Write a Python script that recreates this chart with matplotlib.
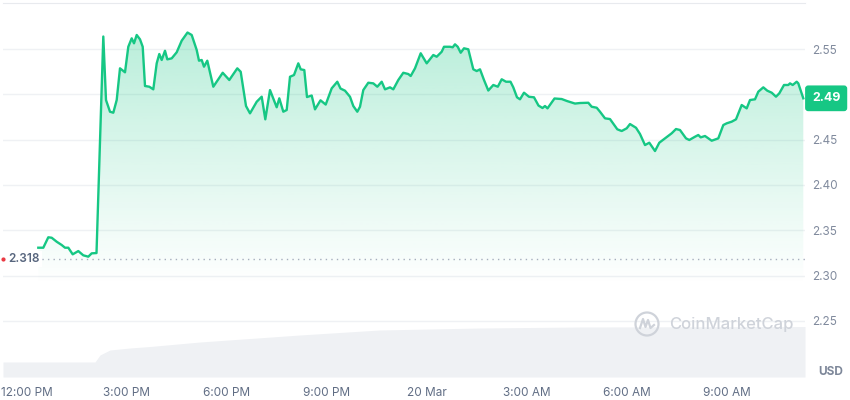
import numpy as np
import matplotlib
matplotlib.use("Agg")
import matplotlib.pyplot as plt
from matplotlib.patches import Polygon, Ellipse
from matplotlib.lines import Line2D
from matplotlib.transforms import blended_transform_factory

plt.rcParams['font.family'] = ['Inter', 'DejaVu Sans']

# price: hours after 12:00 PM (19 Mar) -> USD
hours = [0.354, 0.504, 0.654, 0.756, 0.906, 1.056, 1.155, 1.254, 1.386, 1.554,
         1.704, 1.854, 1.956, 2.100, 2.304, 2.385, 2.505, 2.604, 2.706, 2.805,
         2.955, 3.054, 3.156, 3.225, 3.306, 3.405, 3.486, 3.555, 3.684, 3.804,
         3.906, 3.984, 4.056, 4.155, 4.224, 4.356, 4.506, 4.656, 4.830, 4.956,
         5.106, 5.175, 5.256, 5.325, 5.424, 5.604, 5.886, 6.084, 6.324, 6.426,
         6.585, 6.705, 6.906, 7.056, 7.164, 7.305, 7.506, 7.584, 7.704, 7.806,
         7.905, 8.025, 8.154, 8.226, 8.334, 8.415, 8.556, 8.655, 8.820, 8.976,
         9.156, 9.324, 9.420, 9.555, 9.705, 9.804, 9.924, 10.005, 10.104, 10.254,
         10.404, 10.524, 10.656, 10.755, 10.905, 11.004, 11.154, 11.304, 11.454, 11.526,
         11.655, 11.826, 12.006, 12.204, 12.306, 12.456, 12.525, 12.705, 12.786, 12.855,
         12.936, 13.026, 13.125, 13.254, 13.404, 13.506, 13.605, 13.725, 13.854, 14.004,
         14.139, 14.256, 14.385, 14.520, 14.604, 14.715, 14.805, 14.925, 15.075, 15.225,
         15.360, 15.480, 15.555, 15.630, 15.840, 16.056, 16.215, 16.455, 16.605, 16.854,
         16.956, 17.106, 17.205, 17.355, 17.505, 17.724, 17.856, 18.006, 18.105, 18.285,
         18.405, 18.555, 18.684, 18.855, 18.984, 19.155, 19.356, 19.485, 19.605, 19.785,
         19.884, 20.055, 20.154, 20.226, 20.355, 20.556, 20.754, 20.904, 21.006, 21.156,
         21.285, 21.456, 21.606, 21.705, 21.855, 21.954, 22.104, 22.224, 22.356, 22.485,
         22.584, 22.725, 22.854, 22.905, 22.986, 23.106, 23.154, 23.304]
price = [2.3307, 2.3307, 2.3422, 2.3417, 2.3373, 2.3337, 2.3307, 2.3307, 2.3234, 2.3270,
         2.3223, 2.3208, 2.3245, 2.3248, 2.5638, 2.4937, 2.4808, 2.4797, 2.4937, 2.5287,
         2.5243, 2.5525, 2.5618, 2.5563, 2.5655, 2.5607, 2.5525, 2.5092, 2.5084, 2.5055,
         2.5342, 2.5445, 2.5379, 2.5481, 2.5386, 2.5397, 2.5464, 2.5592, 2.5682, 2.5655,
         2.5489, 2.5371, 2.5379, 2.5305, 2.5371, 2.5084, 2.5238, 2.5158, 2.5287, 2.5249,
         2.4871, 2.4790, 2.4918, 2.4974, 2.4724, 2.5047, 2.4857, 2.4956, 2.4808, 2.4827,
         2.5194, 2.5213, 2.5342, 2.5276, 2.5268, 2.4970, 2.4987, 2.4834, 2.4934, 2.4887,
         2.5066, 2.5139, 2.5064, 2.5040, 2.4973, 2.4871, 2.4808, 2.4863, 2.5047, 2.5128,
         2.5121, 2.5084, 2.5139, 2.5055, 2.5077, 2.5055, 2.5158, 2.5238, 2.5224, 2.5202,
         2.5287, 2.5453, 2.5342, 2.5434, 2.5415, 2.5470, 2.5525, 2.5525, 2.5519, 2.5552,
         2.5525, 2.5459, 2.5508, 2.5497, 2.5276, 2.5257, 2.5276, 2.5158, 2.5042, 2.5103,
         2.5084, 2.5166, 2.5139, 2.5139, 2.5077, 2.4967, 2.4945, 2.5018, 2.4973, 2.4967,
         2.4876, 2.4849, 2.4871, 2.4845, 2.4954, 2.4948, 2.4926, 2.4898, 2.4904, 2.4907,
         2.4863, 2.4852, 2.4808, 2.4735, 2.4727, 2.4614, 2.4595, 2.4625, 2.4672, 2.4631,
         2.4562, 2.4440, 2.4466, 2.4374, 2.4466, 2.4514, 2.4570, 2.4617, 2.4606, 2.4514,
         2.4496, 2.4532, 2.4551, 2.4525, 2.4540, 2.4488, 2.4514, 2.4661, 2.4680, 2.4698,
         2.4724, 2.4882, 2.4845, 2.4937, 2.4945, 2.5029, 2.5077, 2.5040, 2.5018, 2.4974,
         2.5011, 2.5103, 2.5103, 2.5121, 2.5103, 2.5139, 2.5121, 2.4956]

vol_hours = [-0.705, 2.055, 2.205, 2.505, 3.105, 3.705, 5.205, 6.705, 8.205, 10.59, 13.6, 16.6, 23.355]
volume = [60, 60, 88, 108, 116, 122, 140, 154, 168, 188, 196, 200, 202]

open_price = 2.318
last_label = "2.49"
price_ticks = [2.25, 2.30, 2.35, 2.40, 2.45, 2.50, 2.55]
# 2.50 sits under the current-price tag, so its label is left blank
price_labels = ["2.25", "2.30", "2.35", "2.40", "2.45", "", "2.55"]
time_ticks = [0, 3, 6, 9, 12, 15, 18, 21]
time_labels = ["12:00 PM", "3:00 PM", "6:00 PM", "9:00 PM", "20 Mar", "3:00 AM", "6:00 AM", "9:00 AM"]

GREEN = "#16c784"
xlim = (-0.705, 23.355)
ylim = (2.188, 2.6008)

fig = plt.figure(figsize=(8.5, 4), dpi=100)
rect = [3 / 850, 23 / 400, 802 / 850, 374 / 400]

# volume area behind the price
axv = fig.add_axes(rect, zorder=0)
axv.fill_between(vol_hours, 0, volume, color="#eff1f4", lw=0)
axv.set_xlim(*xlim)
axv.set_ylim(0, 1496)
axv.axis("off")

ax = fig.add_axes(rect, zorder=1)
ax.patch.set_alpha(0)
ax.set_xlim(*xlim)
ax.set_ylim(*ylim)

for t in price_ticks:
    ax.axhline(t, color="#eff1f4", lw=1, zorder=1)

# gradient fill under the line
poly = Polygon(list(zip(hours, price)) + [(hours[-1], ylim[0]), (hours[0], ylim[0])],
               closed=True, fc="none", ec="none")
ax.add_patch(poly)
yy = np.linspace(ylim[1], ylim[0], 300)
alpha = np.clip((yy - 2.29) / (2.57 - 2.29), 0, 1) * 0.30
grad = np.zeros((300, 1, 4))
grad[..., :3] = matplotlib.colors.to_rgb(GREEN)
grad[:, 0, 3] = alpha
im = ax.imshow(grad, extent=[xlim[0], xlim[1], ylim[0], ylim[1]], aspect="auto", zorder=2)
im.set_clip_path(poly)

ax.plot(hours, price, color=GREEN, lw=1.7, zorder=4, solid_joinstyle="round")

# open price reference
ax.axhline(open_price, color="#a6aebd", lw=1, ls=(0, (1, 3)), zorder=3)
ax.plot([xlim[0]], [open_price], marker="o", ms=2, color="#ea3943", clip_on=False, zorder=5)
ax.text(xlim[0] + 0.15, open_price, f"{open_price:.3f}", va="center", ha="left",
        fontsize=8.5, color="#58667e", fontweight="semibold", zorder=5,
        bbox=dict(fc="white", ec="none", pad=1.5))

# axes styling
for side in ["left", "right", "bottom"]:
    ax.spines[side].set_visible(False)
ax.spines["top"].set_color("#e8eaee")
ax.yaxis.tick_right()
ax.set_yticks(price_ticks)
ax.set_yticklabels(price_labels)
ax.set_xticks(time_ticks)
ax.set_xticklabels(time_labels)
ax.tick_params(axis="y", length=0, pad=5, labelsize=8.5, labelcolor="#808a9d")
ax.tick_params(axis="x", length=0, pad=7, labelsize=8.5, labelcolor="#616e85")

# last price tag
tr = blended_transform_factory(ax.transAxes, ax.transData)
ax.text(1.0087, price[-1], last_label, transform=tr, ha="left", va="center",
        fontsize=9, color="white", fontweight="bold", zorder=10, clip_on=False,
        bbox=dict(boxstyle="round,pad=0.55,rounding_size=0.25", fc=GREEN, ec="none"))

fig.text(818 / 850, 1 - 372 / 400, "USD", ha="left", va="center", fontsize=8.5,
         fontweight="bold", color="#7d8799")

# watermark
fig.patches.append(Ellipse((647 / 850, 1 - 324 / 400), 23 / 850, 23 / 400,
                           transform=fig.transFigure, fc="none", ec="#cfd3da", lw=1.6))
wx = np.array([-7, -4, -1.5, 1, 3.5, 7]) + 647
wy = np.array([4, -5, 3, -4, 4, 1]) + 324
fig.lines.append(Line2D(wx / 850, 1 - wy / 400, transform=fig.transFigure,
                        color="#cfd3da", lw=1.6))
fig.text(669 / 850, 1 - 324 / 400, "CoinMarketCap", ha="left", va="center",
         fontsize=12, color="#cfd3da", fontweight="medium")

fig.savefig("out.png", dpi=100)
